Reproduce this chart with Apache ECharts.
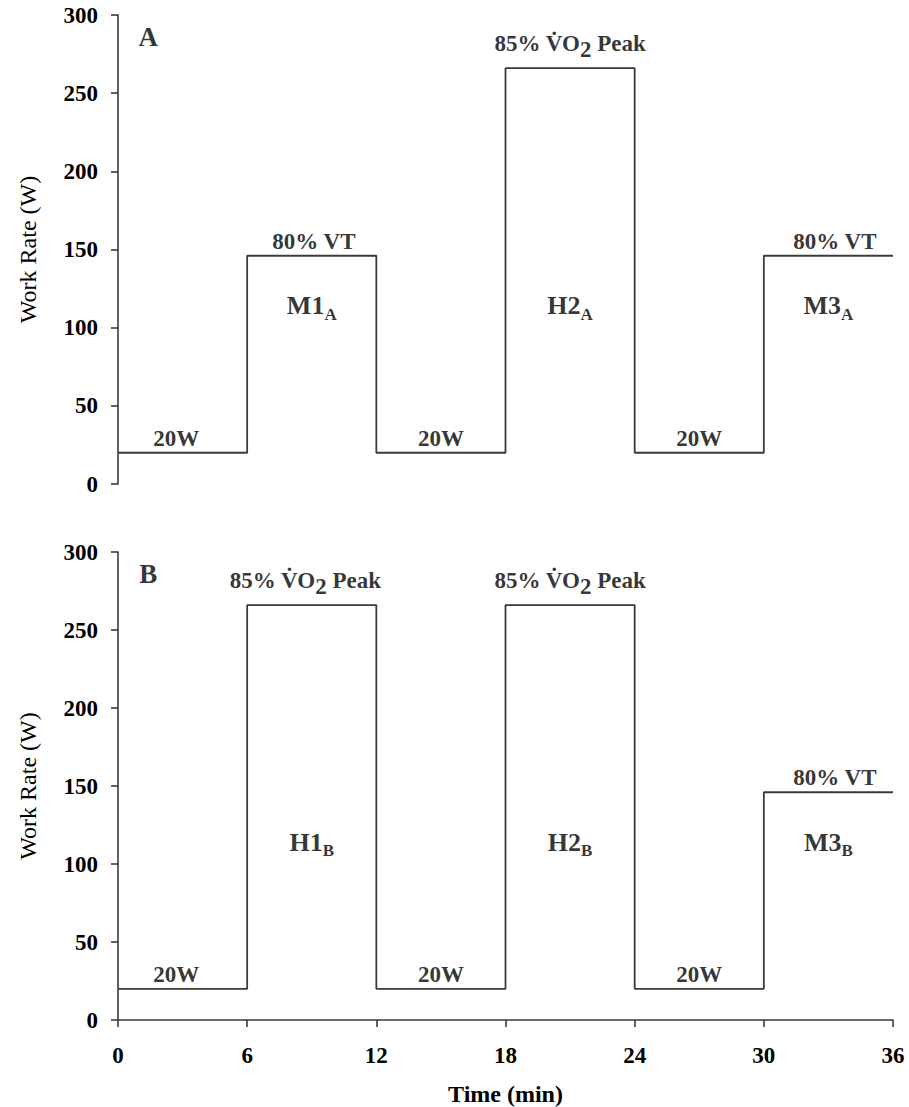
<!DOCTYPE html>
<html>
<head>
<meta charset="utf-8">
<script src="https://cdn.jsdelivr.net/npm/echarts@6/dist/echarts.min.js"></script>
<style>
html,body{margin:0;padding:0;background:#fff;}
#chart{width:909px;height:1107px;}
</style>
</head>
<body>
<div id="chart"></div>
<script>
// ---- data ----
const timeTicks = [0, 6, 12, 18, 24, 30, 36];
const yTicks = [0, 50, 100, 150, 200, 250, 300];
const stepTimes = [0, 6, 12, 18, 24, 30, 36];
const workRateA = [20, 146, 20, 266, 20, 146, 146];
const workRateB = [20, 266, 20, 266, 20, 146, 146];

// level labels: [text, time, level]
const levelLabelsA = [
  ['20W', 2.7, 20], ['80% VT', 9.1, 146], ['20W', 15, 20],
  ['85% V\u0307O2 Peak', 21, 266], ['20W', 27, 20], ['80% VT', 33.3, 146]
];
const levelLabelsB = [
  ['20W', 2.7, 20], ['85% V\u0307O2 Peak', 8.7, 266], ['20W', 15, 20],
  ['85% V\u0307O2 Peak', 21, 266], ['20W', 27, 20], ['80% VT', 33.3, 146]
];
// phase labels: [main, subscript, time, work rate]
const phaseLabelsA = [['M1', 'A', 9, 114], ['H2', 'A', 21, 114], ['M3', 'A', 33, 114]];
const phaseLabelsB = [['H1', 'B', 9, 114], ['H2', 'B', 21, 114], ['M3', 'B', 33, 114]];
// panel letters: [letter, time, work rate]
const panelLetterA = ['A', 1.4, 286];
const panelLetterB = ['B', 1.4, 286];

const FONT = '"Liberation Serif", "Times New Roman", serif';
const LINE = '#3a3a3a';
const TEXT = '#000';

function levelText(t) {
  if (t.indexOf('O2') >= 0) {
    const parts = t.split('O2');
    return '{n|' + parts[0] + 'O}{s|2}{n|' + parts[1] + '}';
  }
  return '{n|' + t + '}';
}

const levelRich = {
  n: { fontFamily: FONT, fontWeight: 'bold', fontSize: 23, color: TEXT },
  s: { fontFamily: FONT, fontWeight: 'bold', fontSize: 23, color: TEXT, padding: [12, 0, 0, 0] }
};
const phaseRich = {
  m: { fontFamily: FONT, fontWeight: 'bold', fontSize: 26, color: TEXT },
  sub: { fontFamily: FONT, fontWeight: 'bold', fontSize: 17, color: TEXT, padding: [17, 0, 0, 0] }
};

function gridAxes(idx, showX) {
  const xAxis = {
    gridIndex: idx, type: 'value', min: 0, max: 36, interval: 6,
    show: showX,
    axisLine: { show: true, onZero: false, lineStyle: { color: LINE, width: 1.6 } },
    axisTick: { show: true, inside: false, length: 7, lineStyle: { color: LINE, width: 1.6 } },
    axisLabel: { show: true, margin: 24, fontFamily: FONT, fontWeight: 'bold', fontSize: 23, color: TEXT,
      formatter: v => timeTicks.indexOf(v) >= 0 ? String(v) : '' },
    splitLine: { show: false },
    name: showX ? 'Time (min)' : '', nameLocation: 'middle', nameGap: 62,
    nameTextStyle: { fontFamily: FONT, fontWeight: 'bold', fontSize: 24, color: TEXT }
  };
  const yAxis = {
    gridIndex: idx, type: 'value', min: 0, max: 300, interval: 50,
    axisLine: { show: true, lineStyle: { color: LINE, width: 1.6 } },
    axisTick: { show: true, inside: false, length: 7, lineStyle: { color: LINE, width: 1.6 } },
    axisLabel: { margin: 20, fontFamily: FONT, fontWeight: 'bold', fontSize: 23, color: TEXT,
      formatter: v => yTicks.indexOf(v) >= 0 ? String(v) : '' },
    splitLine: { show: false },
    name: 'Work Rate (W)', nameLocation: 'middle', nameGap: 78, nameRotate: 90,
    nameTextStyle: { fontFamily: FONT, fontWeight: 'normal', fontSize: 24, color: TEXT }
  };
  return { xAxis, yAxis };
}

function panelSeries(idx, work, levels, phases, letter) {
  const out = [];
  out.push({
    type: 'line', xAxisIndex: idx, yAxisIndex: idx, step: 'end',
    data: stepTimes.map((t, i) => [t, work[i]]),
    symbol: 'none', lineStyle: { color: LINE, width: 1.8 }, silent: true, animation: false
  });
  out.push({
    type: 'scatter', xAxisIndex: idx, yAxisIndex: idx, symbolSize: 0, silent: true, animation: false,
    data: levels.map(l => ({
      value: [l[1], l[2]],
      label: { show: true, position: 'top', distance: l[0].indexOf('O2') >= 0 ? 7 : 3,
        formatter: levelText(l[0]), rich: levelRich }
    }))
  });
  out.push({
    type: 'scatter', xAxisIndex: idx, yAxisIndex: idx, symbolSize: 0, silent: true, animation: false,
    data: phases.map(p => ({
      value: [p[2], p[3]],
      label: { show: true, position: 'inside', formatter: '{m|' + p[0] + '}{sub|' + p[1] + '}', rich: phaseRich }
    }))
  });
  out.push({
    type: 'scatter', xAxisIndex: idx, yAxisIndex: idx, symbolSize: 0, silent: true, animation: false,
    data: [{
      value: [letter[1], letter[2]],
      label: { show: true, position: 'inside', formatter: letter[0],
        fontFamily: FONT, fontWeight: 'bold', fontSize: 27, color: TEXT }
    }]
  });
  return out;
}

const a = gridAxes(0, false);
const b = gridAxes(1, true);

const chart = echarts.init(document.getElementById('chart'), null, { renderer: 'svg' });
chart.setOption({
  backgroundColor: '#fff',
  animation: false,
  grid: [
    { left: 118, top: 15, width: 775, height: 469 },
    { left: 118, top: 552, width: 775, height: 469 }
  ],
  xAxis: [a.xAxis, b.xAxis],
  yAxis: [a.yAxis, b.yAxis],
  series: [].concat(
    panelSeries(0, workRateA, levelLabelsA, phaseLabelsA, panelLetterA),
    panelSeries(1, workRateB, levelLabelsB, phaseLabelsB, panelLetterB)
  )
});
</script>
</body>
</html>
